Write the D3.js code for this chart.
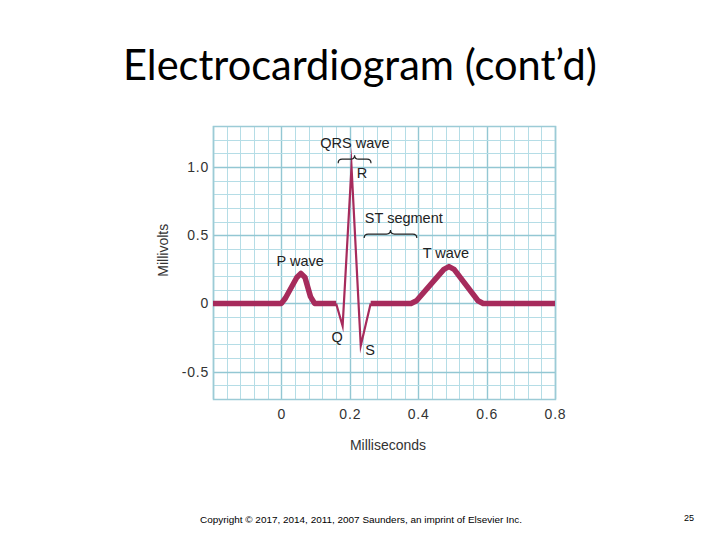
<!DOCTYPE html>
<html>
<head>
<meta charset="utf-8">
<script src="https://cdn.jsdelivr.net/npm/d3@7"></script>
<style>
  html, body { margin: 0; padding: 0; background: #fff; }
  svg { display: block; }
</style>
</head>
<body>
<svg id="chart" width="720" height="540"></svg>
<script>
// ---- Data ----
const titleText = "Electrocardiogram (cont\u2019d)";
const xLabel = "Milliseconds";
const yLabel = "Millivolts";
const xTicks = [0, 0.2, 0.4, 0.6, 0.8];
const yTicks = [-0.5, 0, 0.5, 1.0];
const yTickLabels = ["-0.5", "0", "0.5", "1.0"];
const xTickLabels = ["0", "0.2", "0.4", "0.6", "0.8"];
const xDomain = [-0.2, 0.8];
const yDomain = [-0.7, 1.3];

// baseline + P wave (thick)
const pSegX = [-0.2, 0.0, 0.012, 0.045, 0.057, 0.069, 0.085, 0.097, 0.16];
const pSegY = [0, 0, 0.04, 0.19, 0.22, 0.19, 0.05, 0, 0];
// QRS complex (thin)
const qrsX = [0.16, 0.179, 0.205, 0.232, 0.261];
const qrsY = [0, -0.165, 1.0, -0.31, 0];
// ST segment + T wave + baseline (thick)
const tSegX = [0.261, 0.379, 0.395, 0.475, 0.49, 0.505, 0.575, 0.59, 0.8];
const tSegY = [0, 0, 0.02, 0.25, 0.27, 0.25, 0.02, 0, 0];

const annoText  = ["QRS wave", "R", "ST segment", "P wave", "T wave", "Q", "S"];
const annoX     = [0.215, 0.220, 0.244, -0.014, 0.413, 0.163, 0.259];
const annoY     = [1.14, 0.918, 0.588, 0.273, 0.33, -0.283, -0.378];
const annoAnchor= ["middle", "start", "start", "start", "start", "middle", "middle"];

const braceX0 = [0.166, 0.242];
const braceX1 = [0.262, 0.396];
const braceY  = [1.057, 0.508];

const copyright = "Copyright \u00a9 2017, 2014, 2011, 2007 Saunders, an imprint of Elsevier Inc.";
const pageNum = "25";

// ---- Drawing ----
const svg = d3.select("#chart");
const W = 720, H = 540;
const plot = {left: 213, right: 555, top: 126, bottom: 399};

const x = d3.scaleLinear().domain(xDomain).range([plot.left, plot.right]);
const y = d3.scaleLinear().domain(yDomain).range([plot.bottom, plot.top]);

// Title
const title = svg.append("text")
  .attr("x", W / 2).attr("y", 79.5)
  .attr("text-anchor", "middle")
  .attr("font-family", "Lato, 'Open Sans', sans-serif")
  .attr("font-size", 40)
  .attr("fill", "#000")
  .text(titleText);
{
  const w = title.node().getComputedTextLength();
  const target = 474;
  title.attr("font-size", 40 * target / w);
}

// Grid
const grid = svg.append("g");
const minorXs = d3.range(0, 26).map(i => xDomain[0] + i * 0.04);
const minorYs = d3.range(0, 21).map(i => yDomain[0] + i * 0.1);
const isMajor = (v, step) => Math.abs(v / step - Math.round(v / step)) < 1e-6;

grid.selectAll("line.vx").data(minorXs).join("line")
  .attr("x1", d => Math.round(x(d)) + 0.5).attr("x2", d => Math.round(x(d)) + 0.5)
  .attr("y1", plot.top).attr("y2", plot.bottom)
  .attr("stroke", d => isMajor(d, 0.2) ? "#93c7d3" : "#b5dde6")
  .attr("stroke-width", d => isMajor(d, 0.2) ? 1.4 : 1);

grid.selectAll("line.hy").data(minorYs).join("line")
  .attr("y1", d => Math.round(y(d)) + 0.5).attr("y2", d => Math.round(y(d)) + 0.5)
  .attr("x1", plot.left).attr("x2", plot.right)
  .attr("stroke", d => isMajor(d, 0.5) ? "#93c7d3" : "#b5dde6")
  .attr("stroke-width", d => isMajor(d, 0.5) ? 1.4 : 1);

svg.append("rect")
  .attr("x", plot.left + 0.5).attr("y", plot.top + 0.5)
  .attr("width", plot.right - plot.left).attr("height", plot.bottom - plot.top)
  .attr("fill", "none").attr("stroke", "#9ccbd6").attr("stroke-width", 1.5);

// Axes
const yAxis = svg.append("g")
  .attr("transform", `translate(${plot.left},0)`)
  .call(d3.axisLeft(y).tickValues(yTicks).tickSize(0).tickPadding(4)
    .tickFormat((d, i) => yTickLabels[i]));
const xAxis = svg.append("g")
  .attr("transform", `translate(0,${plot.bottom})`)
  .call(d3.axisBottom(x).tickValues(xTicks).tickSize(0).tickPadding(10)
    .tickFormat((d, i) => xTickLabels[i]));
[yAxis, xAxis].forEach(a => {
  a.select(".domain").remove();
  a.selectAll("text")
    .attr("font-family", "'Liberation Sans', Arial, sans-serif")
    .attr("font-size", 14)
    .attr("letter-spacing", "0.8px")
    .attr("fill", "#333");
});

svg.append("text")
  .attr("x", (plot.left + plot.right) / 2 + 4).attr("y", 450)
  .attr("text-anchor", "middle")
  .attr("font-family", "'Liberation Sans', Arial, sans-serif")
  .attr("font-size", 14).attr("fill", "#333")
  .text(xLabel);

svg.append("text")
  .attr("transform", `translate(168,${y(0.39)}) rotate(-90)`)
  .attr("text-anchor", "middle")
  .attr("font-family", "'Liberation Sans', Arial, sans-serif")
  .attr("font-size", 14).attr("fill", "#333")
  .text(yLabel);

// ECG trace
const traceColor = "#a62b5c";
const line = d3.line().x(d => x(d[0])).y(d => y(d[1]));
const zip = (xs, ys) => xs.map((v, i) => [v, ys[i]]);

svg.append("path")
  .attr("d", line(zip(qrsX, qrsY)))
  .attr("fill", "none").attr("stroke", traceColor)
  .attr("stroke-width", 2.2).attr("stroke-linejoin", "miter").attr("stroke-miterlimit", 20);

[zip(pSegX, pSegY), zip(tSegX, tSegY)].forEach(pts => {
  svg.append("path")
    .attr("d", line(pts))
    .attr("fill", "none").attr("stroke", traceColor)
    .attr("stroke-width", 5.5).attr("stroke-linejoin", "round").attr("stroke-linecap", "butt");
});

// Braces
braceX0.forEach((x0v, i) => {
  const a = x(x0v), b = x(braceX1[i]), yb = y(braceY[i]), m = (a + b) / 2, h = 4, r = 4;
  const p = `M${a},${yb + h} Q${a},${yb} ${a + r},${yb} L${m - r},${yb} Q${m},${yb} ${m},${yb - h} Q${m},${yb} ${m + r},${yb} L${b - r},${yb} Q${b},${yb} ${b},${yb + h}`;
  svg.append("path").attr("d", p).attr("fill", "none").attr("stroke", "#222").attr("stroke-width", 1.2);
});

// Annotations
annoText.forEach((t, i) => {
  svg.append("text")
    .attr("x", x(annoX[i])).attr("y", y(annoY[i]))
    .attr("text-anchor", annoAnchor[i])
    .attr("font-family", "'Liberation Sans', Arial, sans-serif")
    .attr("font-size", 14.5).attr("fill", "#222")
    .text(t);
});

// Footer
svg.append("text")
  .attr("x", 200).attr("y", 523)
  .attr("font-family", "'Liberation Sans', Arial, sans-serif")
  .attr("font-size", 9).attr("fill", "#000")
  .attr("textLength", 322).attr("lengthAdjust", "spacingAndGlyphs")
  .text(copyright);
svg.append("text")
  .attr("x", 684).attr("y", 521)
  .attr("font-family", "'Liberation Sans', Arial, sans-serif")
  .attr("font-size", 9).attr("fill", "#000")
  .text(pageNum);
</script>
</body>
</html>
